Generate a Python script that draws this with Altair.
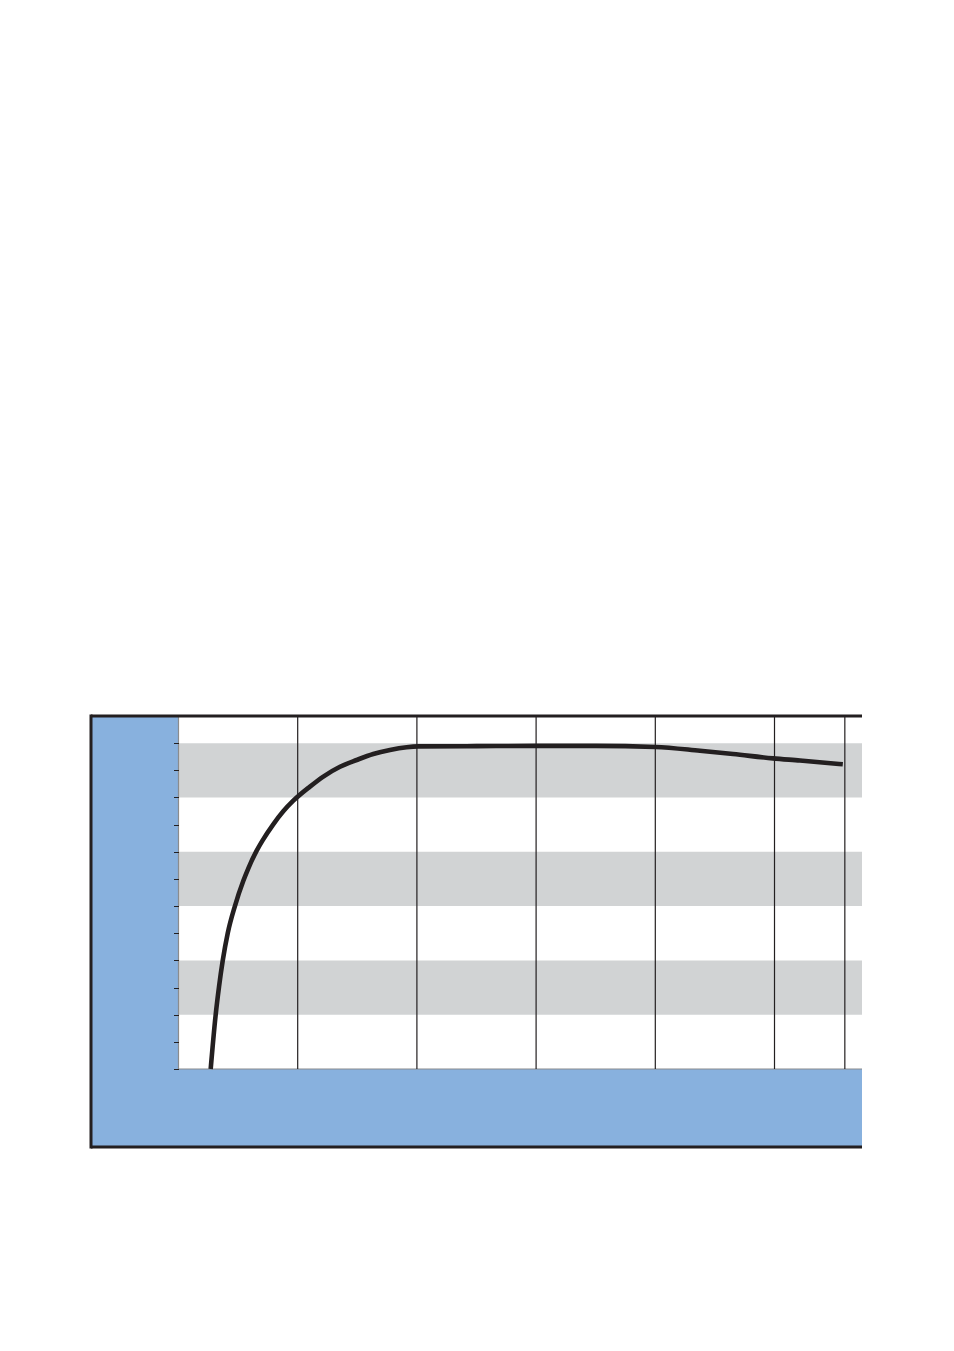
import altair as alt
import pandas as pd

# ---- data ----
curve_x = [0.270, 0.312, 0.340, 0.371, 0.413, 0.474, 0.544, 0.586, 0.656, 0.703,
           0.795, 0.879, 0.963, 1.103, 1.215, 1.355, 1.495, 1.634, 1.774, 1.914,
           2.012, 2.5, 3.0, 3.5, 4.0, 4.375, 4.652, 4.987, 5.214, 5.573]
curve_y = [0.0, 2.0, 3.03, 3.99, 5.0, 6.01, 6.93, 7.39, 8.04, 8.40,
           9.01, 9.49, 9.88, 10.40, 10.77, 11.13, 11.38, 11.60, 11.75, 11.85,
           11.88, 11.89, 11.9, 11.9, 11.86, 11.72, 11.6, 11.44, 11.36, 11.22]
band_lo = [2, 6, 10]
band_hi = [4, 8, 12]
vlines = [1, 2, 3, 4, 5, 5.59]
y_ticks = list(range(13))

x_min, x_max = -0.734, 5.734
y_min, y_max = -2.873, 13.0

BLUE = "#88b1de"
GREY_BAND = "#d1d3d4"
DARK = "#231f20"
EDGE = "#8a8c8e"

xs = alt.Scale(domain=[x_min, x_max], nice=False, zero=False)
ys = alt.Scale(domain=[y_min, y_max], nice=False, zero=False)
y_axis = alt.Axis(values=y_ticks, labels=False, domain=False, grid=False,
                  ticks=True, tickSize=5, tickColor=DARK, tickWidth=1,
                  offset=-87.5, title=None, zindex=1)


def X(f):
    return alt.X(f, type="quantitative", scale=xs, axis=None)


def Y(f):
    return alt.Y(f, type="quantitative", scale=ys, axis=y_axis)


# blue frame panels (left and bottom)
blue_df = pd.DataFrame({"x": [x_min, x_min], "x2": [0, x_max],
                        "y": [y_min, y_min], "y2": [y_max, 0]})
blue = alt.Chart(blue_df).mark_rect(color=BLUE).encode(
    x=X("x"), x2="x2", y=Y("y"), y2="y2")

bands_df = pd.DataFrame({"lo": band_lo, "hi": band_hi,
                         "x": [0] * len(band_lo), "x2": [x_max] * len(band_lo)})
bands = alt.Chart(bands_df).mark_rect(color=GREY_BAND).encode(
    x=X("x"), x2="x2", y=Y("lo"), y2="hi")

edge_v_df = pd.DataFrame({"x": [0], "y": [0], "y2": [y_max]})
edge_v = alt.Chart(edge_v_df).mark_rule(color=EDGE, strokeWidth=1.2).encode(
    x=X("x"), y=Y("y"), y2="y2")
edge_h_df = pd.DataFrame({"x": [0], "x2": [x_max], "y": [0]})
edge_h = alt.Chart(edge_h_df).mark_rule(color=EDGE, strokeWidth=1.2).encode(
    x=X("x"), x2="x2", y=Y("y"))

vl_df = pd.DataFrame({"x": vlines, "y": [0] * len(vlines), "y2": [y_max] * len(vlines)})
vrules = alt.Chart(vl_df).mark_rule(color=DARK, strokeWidth=1.2).encode(
    x=X("x"), y=Y("y"), y2="y2")

curve_df = pd.DataFrame({"x": curve_x, "y": curve_y})
curve = alt.Chart(curve_df).mark_line(color=DARK, strokeWidth=4.6,
                                      interpolate="monotone").encode(
    x=X("x"), y=Y("y"))

# frame borders (top, bottom, left)
hb_df = pd.DataFrame({"x": [x_min, x_min], "x2": [x_max, x_max], "y": [y_max, y_min]})
hborders = alt.Chart(hb_df).mark_rule(color=DARK, strokeWidth=3).encode(
    x=X("x"), x2="x2", y=Y("y"))
lb_df = pd.DataFrame({"x": [x_min], "y": [y_min], "y2": [y_max]})
lborder = alt.Chart(lb_df).mark_rule(color=DARK, strokeWidth=3,
                                     strokeCap="square").encode(
    x=X("x"), y=Y("y"), y2="y2")

chart = alt.layer(blue, bands, edge_v, edge_h, vrules, curve, hborders, lborder).properties(
    width=771, height=431,
    autosize=alt.AutoSizeParams(type="none"),
    padding={"left": 83, "top": 708, "right": 10, "bottom": 10},
    background="white",
).configure_view(stroke="transparent")

chart.save("out.html", embed_options={"renderer": "svg", "actions": False})
